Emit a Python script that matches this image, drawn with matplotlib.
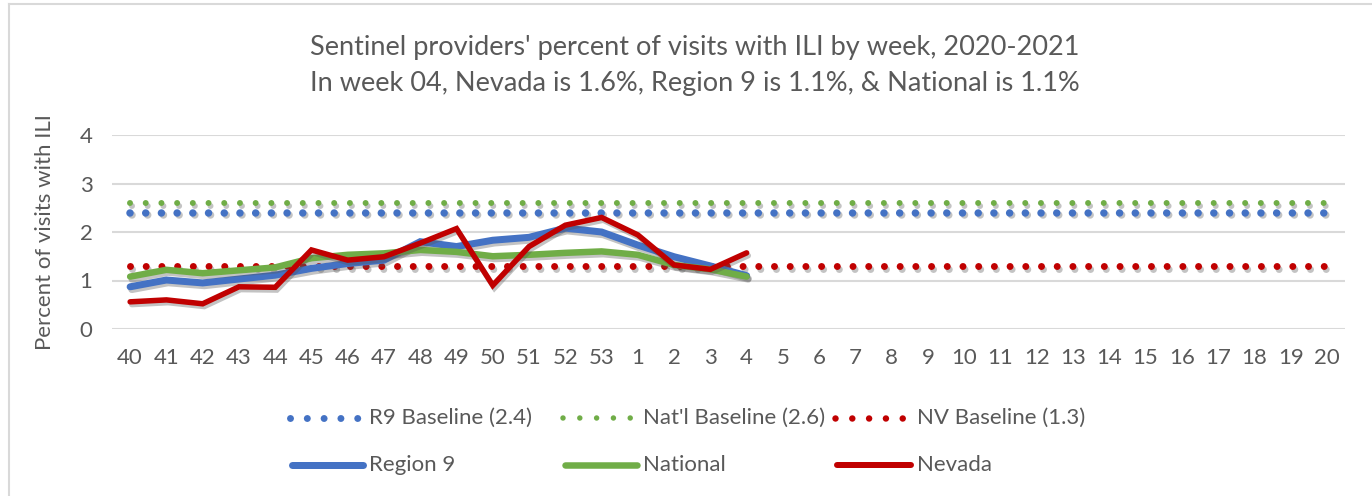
import matplotlib
matplotlib.use("Agg")
import matplotlib.pyplot as plt
from matplotlib.lines import Line2D
import matplotlib.patheffects as pe

weeks = ["40", "41", "42", "43", "44", "45", "46", "47", "48", "49", "50", "51", "52", "53",
         "1", "2", "3", "4", "5", "6", "7", "8", "9", "10", "11", "12", "13", "14", "15",
         "16", "17", "18", "19", "20"]
region9 = [0.87, 1.01, 0.95, 1.03, 1.11, 1.25, 1.35, 1.42, 1.80, 1.70, 1.83, 1.89, 2.08, 2.00,
           1.73, 1.49, 1.30, 1.10]
national = [1.08, 1.22, 1.15, 1.21, 1.27, 1.46, 1.53, 1.56, 1.63, 1.59, 1.50, 1.53, 1.57, 1.60,
            1.53, 1.32, 1.23, 1.08]
nevada = [0.56, 0.60, 0.52, 0.87, 0.86, 1.63, 1.42, 1.49, 1.77, 2.07, 0.90, 1.70, 2.14, 2.30,
          1.94, 1.32, 1.23, 1.57]
r9_baseline = 2.4
natl_baseline = 2.6
nv_baseline = 1.3

title_lines = ["Sentinel providers' percent of visits with ILI by week, 2020-2021",
               "In week 04, Nevada is 1.6%, Region 9 is 1.1%, & National is 1.1%"]
ylabel = "Percent of visits with ILI"
yticks = [0, 1, 2, 3, 4]

BLUE = "#4472C4"
GREEN = "#70AD47"
RED = "#C00000"
GRID = "#D9D9D9"
TXT = "#595959"
FONT = "Lato"
FS = 16

W, H = 1372, 496
fig = plt.figure(figsize=(W / 100, H / 100), dpi=100)
plt.rcParams['font.family'] = [FONT, 'DejaVu Sans']

ax_left, ax_right = 112, 1345
ax_top, ax_bot = 135, 329
ax = fig.add_axes([ax_left / W, 1 - ax_bot / H, (ax_right - ax_left) / W, (ax_bot - ax_top) / H])

n = len(weeks)
x_all = list(range(n))

def shadow():
    return [pe.SimpleLineShadow(offset=(1.2, -2.0), shadow_color="#555555", alpha=0.35),
            pe.Normal()]

def dotted(y, color, lw_px, z):
    lw = lw_px * 0.72
    spacing_pt = 15.7 * 0.72
    ln, = ax.plot(x_all, [y] * n, color=color, lw=lw,
                  linestyle=(0, (0.001, spacing_pt / lw)),
                  dash_capstyle="round", zorder=z)
    ln.set_path_effects(shadow())

dotted(nv_baseline, RED, 7, 3)
dotted(r9_baseline, BLUE, 7.5, 3)
dotted(natl_baseline, GREEN, 6, 3)

xs = x_all[:len(region9)]
for vals, color, lw_px, z in [(region9, BLUE, 7, 4), (national, GREEN, 6.5, 5), (nevada, RED, 5.5, 6)]:
    ln, = ax.plot(xs, vals, color=color, lw=lw_px * 0.72, solid_capstyle="round",
                  solid_joinstyle="miter", zorder=z)
    ln.set_path_effects(shadow())

ax.set_xlim(-0.5, n - 0.5)
ax.set_ylim(0, 4)
ax.set_yticks(yticks)
ax.set_xticks(x_all)
ax.set_xticklabels(weeks)
ax.grid(axis="y", color=GRID, lw=1.5, zorder=0)
ax.set_axisbelow(True)
for s in ax.spines.values():
    s.set_visible(False)
ax.tick_params(axis="both", length=0, labelsize=FS, colors=TXT)
ax.tick_params(axis="x", pad=14)
ax.tick_params(axis="y", pad=14)
for lbl in ax.get_xticklabels() + ax.get_yticklabels():
    lbl.set_fontfamily(FONT)

fig.text(45 / W, 1 - 232 / H, ylabel, rotation=90, ha="center", va="center",
         fontsize=FS, color=TXT, fontfamily=FONT)

fig.text(695 / W, 1 - 47 / H, title_lines[0], ha="center", va="center",
         fontsize=19.5, color=TXT, fontfamily=FONT)
fig.text(695 / W, 1 - 83 / H, title_lines[1], ha="center", va="center",
         fontsize=19.5, color=TXT, fontfamily=FONT)

leg_items = [
    ("R9 Baseline (2.4)", BLUE, "dot", 290, 369, 418, 7),
    ("Nat'l Baseline (2.6)", GREEN, "dot", 563, 643, 418, 5.5),
    ("NV Baseline (1.3)", RED, "dot", 835, 917, 418, 6.5),
    ("Region 9", BLUE, "solid", 290, 369, 465, 7),
    ("National", GREEN, "solid", 563, 643, 465, 6.5),
    ("Nevada", RED, "solid", 835, 917, 465, 6),
]
for label, color, kind, hx, tx, ty, lw_px in leg_items:
    yf = 1 - ty / H
    if kind == "dot":
        lw = lw_px * 0.72
        ln = Line2D([hx / W, (hx + 68) / W], [yf, yf], transform=fig.transFigure,
                    color=color, lw=lw, linestyle=(0, (0.001, 16.8 * 0.72 / lw)),
                    dash_capstyle="round")
    else:
        ln = Line2D([(hx + 2) / W, (tx - 6) / W], [yf, yf], transform=fig.transFigure,
                    color=color, lw=lw_px * 0.72, solid_capstyle="round")
    fig.add_artist(ln)
    fig.text(tx / W, yf, label, ha="left", va="center", fontsize=FS, color=TXT,
             fontfamily=FONT)

fig.add_artist(Line2D([8.5 / W, 8.5 / W], [0, 1 - 3.5 / H], transform=fig.transFigure,
                      color=GRID, lw=1.5))
fig.add_artist(Line2D([8.5 / W, 1], [1 - 3.5 / H, 1 - 3.5 / H], transform=fig.transFigure,
                      color=GRID, lw=1.5))

fig.savefig("out.png", dpi=100)
